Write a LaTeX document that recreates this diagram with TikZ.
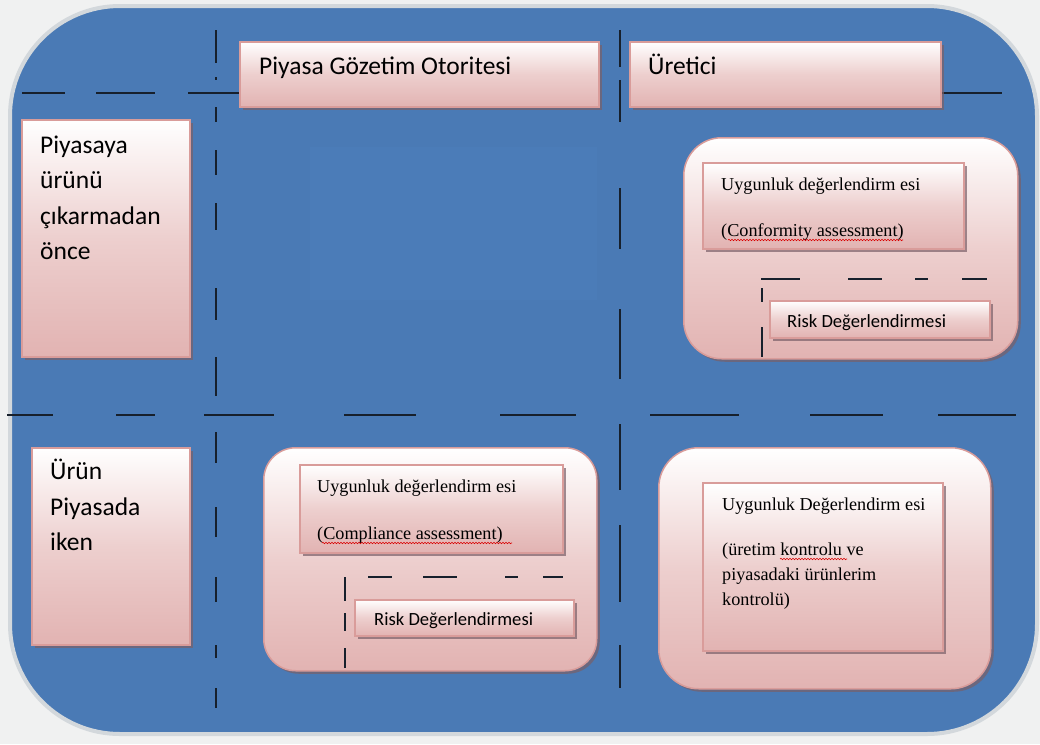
\documentclass[tikz,border=0pt]{standalone}
\usepackage{fontspec}
\setmainfont{Liberation Serif}
\newfontfamily\carl{Carlito}
\usetikzlibrary{shadows,decorations.pathmorphing}
\definecolor{bgc}{HTML}{F0F1F1}
\definecolor{ringc}{HTML}{D3D8DC}
\definecolor{blueA}{HTML}{4A7AB5}
\definecolor{blueB}{HTML}{4B7CB8}
\definecolor{pinkmid}{HTML}{EDCFCE}
\definecolor{pinkbot}{HTML}{E2B3B2}
\definecolor{pinkline}{HTML}{D99C9A}
\definecolor{shad}{HTML}{7A5F68}
\definecolor{dashc}{HTML}{17202C}
\begin{document}
\begin{tikzpicture}[x=1pt,y=-1pt,
  pbox/.style={draw=pinkline, line width=1.5pt, top color=white, bottom color=pinkbot, middle color=pinkmid,
    drop shadow={shadow xshift=3pt, shadow yshift=-3pt, fill=shad, opacity=.7},
    anchor=north west, inner sep=0pt},
  rbox/.style={pbox, rounded corners=#1},
  dl/.style={draw=dashc, line width=2pt},
  dli/.style={draw=dashc, line width=1.6pt},
  hd/.style={font=\carl\fontsize{25.5}{30}\selectfont, inner sep=0pt, anchor=base west},
  rk/.style={font=\carl\fontsize{18.6}{22}\selectfont, inner sep=0pt, anchor=base west},
  sf/.style={font=\fontsize{18.2}{22}\selectfont, inner sep=0pt, anchor=base west},
  sq/.style={draw=red!85!black, line width=0.6pt, decorate, decoration={snake, amplitude=0.7pt, segment length=3pt}}]
\useasboundingbox (0,0) rectangle (1040,744);
\fill[bgc] (0,0) rectangle (1040,744);
% main blue panel
\path[fill=blueA, draw=ringc, line width=4pt, rounded corners=110pt] (10,6) rectangle (1037,734);
\fill[blueB] (310,147) rectangle (597,300);

% dashed divider lines
\foreach \a/\b in {30/63,77/80,107/122,150/175,203/230,288/320,357/396,432/463,507/537,577/602,645/658,688/708}
  \draw[dl] (216,\a) -- (216,\b);
\foreach \a/\b in {30/67,80/122,188/249,309/379,424/490,525/602,645/688}
  \draw[dl] (620,\a) -- (620,\b);
\foreach \a/\b in {22/65,96/155,188/239,940/1002}
  \draw[dl] (\a,93) -- (\b,93);
\foreach \a/\b in {7/53,116/155,204/274,344/416,500/576,650/739,810/883,938/1016}
  \draw[dl] (\a,415) -- (\b,415);

% header boxes
\node[pbox, minimum width=359pt, minimum height=65pt] (pgo) at (239,41) {};
\node[hd] (pgot) at (259,74) {Piyasa Gözetim Otoritesi};
\node[pbox, minimum width=311pt, minimum height=65pt] (ure) at (629,41) {};
\node[hd] (uret) at (648,74) {Üretici};

% row boxes
\node[pbox, minimum width=168pt, minimum height=237pt] (once) at (21,119) {};
\node[hd] (o1) at (40,153) {Piyasaya};
\node[hd] (o2) at (40,188) {ürünü};
\node[hd] (o3) at (40,224) {çıkarmadan};
\node[hd] (o4) at (40,259) {önce};
\node[pbox, minimum width=158pt, minimum height=197pt] (iken) at (31,447) {};
\node[hd] (i1) at (50,479) {Ürün};
\node[hd] (i2) at (50,515) {Piyasada};
\node[hd] (i3) at (50,550) {iken};

% upper right group
\node[rbox=38pt, minimum width=334pt, minimum height=221pt] (ur) at (683,137) {};
\node[pbox, minimum width=261pt, minimum height=86pt] (urin) at (702,162) {};
\node[sf] (ur1) at (721,190) {Uygunluk değerlendirm esi};
\node[sf] (ur2) at (721,236) {(Conformity assessment)};
\draw[sq] (728,240) -- (903,240);
\foreach \a/\b in {761/800,848/882,915/928,962/987}
  \draw[dli] (\a,279) -- (\b,279);
\foreach \a/\b in {288/302,327/357}
  \draw[dli] (762,\a) -- (762,\b);
\node[pbox, minimum width=220pt, minimum height=37pt] (urrisk) at (769,300) {};
\node[rk] (urr) at (787,327) {Risk Değerlendirmesi};

% lower middle group
\node[rbox=32pt, minimum width=333pt, minimum height=223pt] (lm) at (263,447) {};
\node[pbox, minimum width=263pt, minimum height=88pt] (lmin) at (299,464) {};
\node[sf] (lm1) at (317,492) {Uygunluk değerlendirm esi};
\node[sf] (lm2) at (317,539) {(Compliance assessment)};
\draw[sq] (322,543) -- (512,543);
\foreach \a/\b in {368/392,423/457,505/518,543/563}
  \draw[dli] (\a,577) -- (\b,577);
\foreach \a/\b in {577/601,613/631,648/668}
  \draw[dli] (345,\a) -- (345,\b);
\node[pbox, minimum width=219pt, minimum height=36pt] (lmrisk) at (354,599) {};
\node[rk] (lmr) at (374,625) {Risk Değerlendirmesi};

% lower right group
\node[rbox=40pt, minimum width=332pt, minimum height=241pt] (lr) at (658,447) {};
\node[pbox, minimum width=240pt, minimum height=168pt] (lrin) at (702,482) {};
\node[sf] (lr1) at (722,510) {Uygunluk Değerlendirm esi};
\node[sf] (lr2) at (722,555) {(üretim kontrolu ve};
\draw[sq] (780,559) -- (847,559);
\node[sf] (lr3) at (722,580) {piyasadaki ürünlerim};
\node[sf] (lr4) at (722,605) {kontrolü)};
\end{tikzpicture}
\end{document}
